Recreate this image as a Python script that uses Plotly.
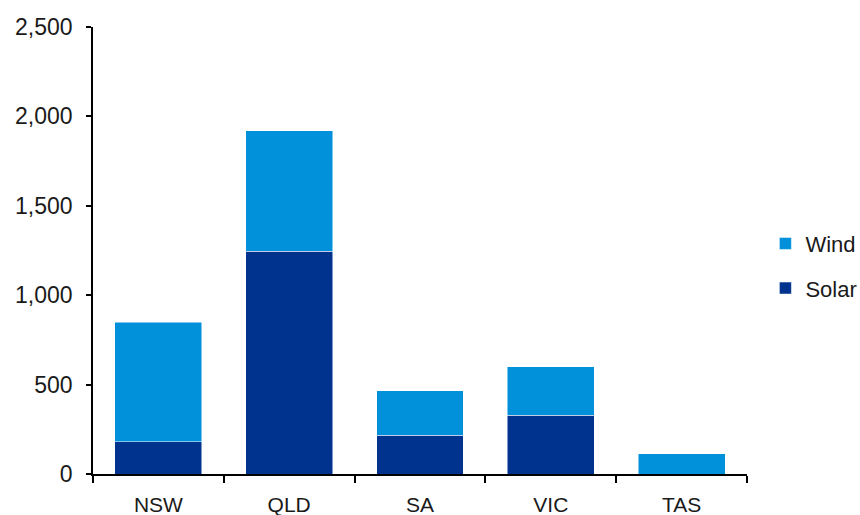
import plotly.graph_objects as go

states = ["NSW", "QLD", "SA", "VIC", "TAS"]
solar = [180, 1245, 218, 330, 0]
wind = [670, 675, 247, 270, 112]

FONT = "Liberation Sans, Arial, sans-serif"

fig = go.Figure()
fig.add_trace(go.Bar(x=states, y=solar, name="Solar", legendgroup="s", legendrank=2,
                     marker=dict(color="#00338D", line=dict(color="#FFFFFF", width=0.5))))
fig.add_trace(go.Bar(x=states, y=wind, name="Wind", legendgroup="w", legendrank=1,
                     marker=dict(color="#0091DA", line=dict(color="#FFFFFF", width=0.5))))

fig.update_layout(
    width=860, height=515,
    barmode="stack", bargap=0.335,
    plot_bgcolor="white", paper_bgcolor="white",
    margin=dict(l=93, r=113, t=27, b=41, autoexpand=False),
    font=dict(family=FONT, size=21, color="#1a1a1a"),
    legend=dict(xref="container", x=0.89, y=0.465, xanchor="left", yanchor="middle",
                traceorder="grouped", tracegroupgap=13,
                font=dict(size=22, color="#1a1a1a")),
    xaxis=dict(range=[-0.5, 4.5], showline=True, linecolor="black", linewidth=1.5,
               ticks="outside", tickson="boundaries", ticklen=7, tickcolor="black",
               tickwidth=1.5, showgrid=False, tickfont=dict(size=21),
               ticklabelstandoff=11),
    yaxis=dict(range=[0, 2500], dtick=500, tickformat=",", showline=True,
               linecolor="black", linewidth=1.5, ticks="outside", ticklen=5,
               tickcolor="black", tickwidth=1.5, showgrid=False, zeroline=False,
               tickfont=dict(size=23), ticklabelstandoff=9),
)

fig.write_html("out.html", config={"displayModeBar": False},
               post_script="document.body.style.margin='0';document.body.style.overflow='hidden';")
